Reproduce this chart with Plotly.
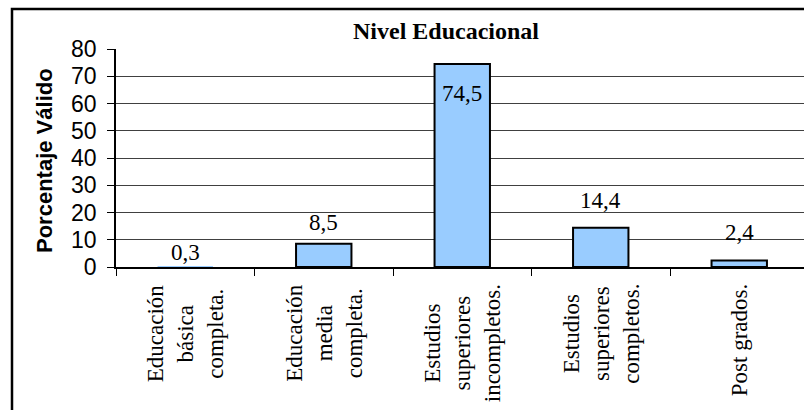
import plotly.graph_objects as go

# Survey data: educational level, valid percentage
categories = [
    "Educación<br>básica<br>completa.",
    "Educación<br>media<br>completa.",
    "Estudios<br>superiores<br>incompletos.",
    "Estudios<br>superiores<br>completos.",
    "Post grados.",
]
values = [0.3, 8.5, 74.5, 14.4, 2.4]
y_ticks = [0, 10, 20, 30, 40, 50, 60, 70, 80]

# vertical pixel offset of each value label relative to its bar top
label_shift = [14, 21, -30, 27, 28]
# outline width per bar (the sliver-thin bar sits under the axis line)
outline_w = [0, 2, 2, 2, 2]

SERIF = "Liberation Serif, Times New Roman, serif"
SANS = "Liberation Sans, Arial, sans-serif"

W, H = 804, 410
ML, MR, MT, MB = 116, 0, 49, 143
plot_w = W - ML - MR
plot_h = H - MT - MB
cat_px = 138.5  # pixel width of one category slot

fig = go.Figure()
fig.add_trace(go.Bar(
    x=list(range(len(values))),
    y=values,
    width=0.4,
    marker=dict(color="#99CCFF", line=dict(color="black", width=outline_w)),
    hoverinfo="skip",
))

# value labels
for i, v in enumerate(values):
    fig.add_annotation(
        x=i, y=v, xref="x", yref="y",
        text=f"{v:.1f}".replace(".", ","),
        showarrow=False, yanchor="middle", xanchor="center",
        yshift=label_shift[i],
        font=dict(family=SERIF, size=23, color="black"),
    )

# rotated category labels under the axis
for i, c in enumerate(categories):
    fig.add_annotation(
        x=i, y=0, xref="x", yref="paper",
        text=c, textangle=-90, align="center",
        showarrow=False, xanchor="center", yanchor="top",
        yshift=-15,
        font=dict(family=SERIF, size=23, color="black"),
    )

# outer chart frame
fig.add_shape(
    type="rect", xref="paper", yref="paper",
    x0=(12 - ML) / plot_w, x1=(W + 10 - ML) / plot_w,
    y0=-(H + 10 - (H - MB)) / plot_h, y1=((H - MB) - 9) / plot_h,
    line=dict(color="black", width=2.5),
    fillcolor="rgba(0,0,0,0)",
)

fig.update_layout(
    width=W, height=H,
    margin=dict(l=ML, r=MR, t=MT, b=MB),
    paper_bgcolor="white", plot_bgcolor="white",
    showlegend=False,
    title=dict(
        text="<b>Nivel Educacional</b>",
        x=446 / W, xanchor="center", xref="container",
        y=1 - 31 / H, yanchor="middle", yref="container",
        font=dict(family=SERIF, size=24, color="black"),
    ),
    xaxis=dict(
        range=[-0.5, -0.5 + plot_w / cat_px],
        tickvals=[k - 0.5 for k in range(len(values) + 1)],
        ticktext=[""] * (len(values) + 1),
        ticks="outside", ticklen=7, tickcolor="black", tickwidth=1,
        showgrid=False, zeroline=False,
        showline=True, linecolor="black", linewidth=1.5,
        fixedrange=True,
    ),
    yaxis=dict(
        range=[0, 80],
        tickvals=y_ticks,
        ticks="outside", ticklen=7, tickcolor="black", tickwidth=1,
        tickfont=dict(family=SANS, size=23, color="black"),
        ticklabelstandoff=6,
        showgrid=True, gridcolor="#404040", gridwidth=1,
        zeroline=False,
        showline=True, linecolor="black", linewidth=1.5,
        fixedrange=True,
    ),
)

# vertical axis title
fig.add_annotation(
    x=(44 - ML) / plot_w, y=((H - MB) - 161) / plot_h,
    xref="paper", yref="paper",
    text="<b>Porcentaje Válido</b>", textangle=-90,
    showarrow=False, xanchor="center", yanchor="middle",
    font=dict(family=SANS, size=22, color="black"),
)

fig.write_html("out.html")
